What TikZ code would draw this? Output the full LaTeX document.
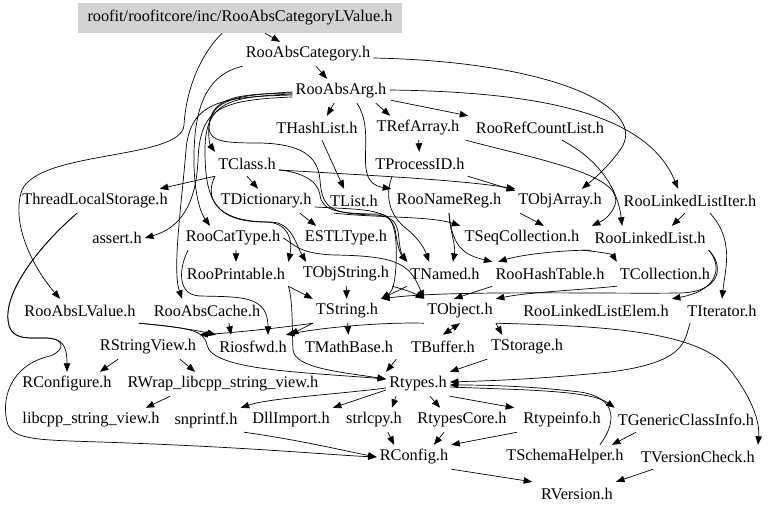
\documentclass[tikz,border=0pt]{standalone}
\usepackage{fontspec}
\setmainfont{Liberation Serif}
\usetikzlibrary{arrows.meta}
\definecolor{rootgray}{RGB}{211,211,211}
\tikzset{
  hdr/.style={font=\fontsize{16.3bp}{19bp}\selectfont, inner xsep=3bp, inner ysep=0pt, minimum height=24bp},
  rootbox/.style={hdr, fill=rootgray, draw=none, minimum width=324bp, minimum height=30bp},
  edge/.style={draw=black, line width=0.7bp, -{Triangle[length=8.5bp,width=6.5bp]}},
  biedge/.style={draw=black, line width=0.7bp, {Triangle[length=8.5bp,width=6.5bp]}-{Triangle[length=8.5bp,width=6.5bp]}}
}
\begin{document}
\begin{tikzpicture}[x=1bp,y=-1bp]
\useasboundingbox (0,0) rectangle (768,514);
\node[rootbox] (root) at (240,18) {roofit/roofitcore/inc/RooAbsCategoryLValue.h};
\node[hdr] (RooAbsCategory) at (308,54) {RooAbsCategory.h};
\node[hdr] (RooAbsArg) at (341,91) {RooAbsArg.h};
\node[hdr] (THashList) at (317,128) {THashList.h};
\node[hdr] (TRefArray) at (418,128) {TRefArray.h};
\node[hdr] (RooRefCountList) at (540,128) {RooRefCountList.h};
\node[hdr] (TClass) at (247,164) {TClass.h};
\node[hdr] (TProcessID) at (420,164) {TProcessID.h};
\node[hdr] (ThreadLocalStorage) at (95,201) {ThreadLocalStorage.h};
\node[hdr] (TDictionary) at (266,201) {TDictionary.h};
\node[hdr] (TList) at (354,201) {TList.h};
\node[hdr] (RooNameReg) at (449,201) {RooNameReg.h};
\node[hdr] (TObjArray) at (560,201) {TObjArray.h};
\node[hdr] (RooLinkedListIter) at (690,201) {RooLinkedListIter.h};
\node[hdr] (assert) at (117,238) {assert.h};
\node[hdr] (RooCatType) at (233,238) {RooCatType.h};
\node[hdr] (ESTLType) at (346,238) {ESTLType.h};
\node[hdr] (TSeqCollection) at (522,238) {TSeqCollection.h};
\node[hdr] (RooLinkedList) at (650,238) {RooLinkedList.h};
\node[hdr] (RooPrintable) at (236,274) {RooPrintable.h};
\node[hdr] (TObjString) at (346,274) {TObjString.h};
\node[hdr] (TNamed) at (445,274) {TNamed.h};
\node[hdr] (RooHashTable) at (550,274) {RooHashTable.h};
\node[hdr] (TCollection) at (665,274) {TCollection.h};
\node[hdr] (RooAbsLValue) at (80,311) {RooAbsLValue.h};
\node[hdr] (RooAbsCache) at (207,311) {RooAbsCache.h};
\node[hdr] (TString) at (347,311) {TString.h};
\node[hdr] (TObject) at (460,311) {TObject.h};
\node[hdr] (RooLinkedListElem) at (596,311) {RooLinkedListElem.h};
\node[hdr] (TIterator) at (722,311) {TIterator.h};
\node[hdr] (RStringView) at (148,347) {RStringView.h};
\node[hdr] (Riosfwd) at (253,347) {Riosfwd.h};
\node[hdr] (TMathBase) at (349,347) {TMathBase.h};
\node[hdr] (TBuffer) at (443,347) {TBuffer.h};
\node[hdr] (TStorage) at (527,347) {TStorage.h};
\node[hdr] (RConfigure) at (67,384) {RConfigure.h};
\node[hdr] (RWrap) at (223,384) {RWrap\_libcpp\_string\_view.h};
\node[hdr] (Rtypes) at (418,384) {Rtypes.h};
\node[hdr] (libcpp) at (91,420) {libcpp\_string\_view.h};
\node[hdr] (snprintf) at (206,420) {snprintf.h};
\node[hdr] (DllImport) at (291,420) {DllImport.h};
\node[hdr] (strlcpy) at (374,420) {strlcpy.h};
\node[hdr] (RtypesCore) at (462,420) {RtypesCore.h};
\node[hdr] (Rtypeinfo) at (562,420) {Rtypeinfo.h};
\node[hdr] (TGenericClassInfo) at (686,420) {TGenericClassInfo.h};
\node[hdr] (RConfig) at (414,457) {RConfig.h};
\node[hdr] (TSchemaHelper) at (565,457) {TSchemaHelper.h};
\node[hdr] (TVersionCheck) at (698,457) {TVersionCheck.h};
\node[hdr] (RVersion) at (577,494) {RVersion.h};

% top
\draw[edge] ([xshift=25]root.south) -- ([xshift=-28]RooAbsCategory.north);
\draw[edge] ([xshift=-18]root.south) .. controls (200,55) and (186,90) .. (184,125) .. controls (182,160) and (40,150) .. (22,190) .. controls (10,225) and (35,270) .. ([xshift=-20]RooAbsLValue.north);
\draw[edge] ([xshift=8]RooAbsCategory.south) -- ([xshift=-14]RooAbsArg.north);
\draw[edge] ([yshift=-4]RooAbsCategory.east) .. controls (560,62) and (650,110) .. (620,150) .. controls (608,167) and (595,178) .. ([xshift=22]TObjArray.north);
\draw[edge] (RooAbsCategory.south west) .. controls (205,75) and (193,110) .. (194,165) .. controls (195,200) and (202,215) .. ([xshift=-23]RooCatType.north);
% RooAbsArg
\draw[edge] ([yshift=-2]RooAbsArg.west) .. controls (240,94) and (212,96) .. (209,125) .. controls (208,138) and (210,145) .. (TClass.north west);
\draw[edge] ([yshift=-4]RooAbsArg.west) .. controls (225,97) and (190,100) .. (186,150) .. controls (182,200) and (172,270) .. ([xshift=-25]RooAbsCache.north);
\draw[edge] ([yshift=-6]RooAbsArg.west) .. controls (220,100) and (200,108) .. (198,160) .. controls (196,205) and (180,228) .. (assert.east);
\draw[edge] ([yshift=-3]RooAbsArg.west) .. controls (232,97) and (205,100) .. (205,150) .. controls (205,200) and (215,222) .. (265,222) .. controls (288,222) and (293,240) .. (RooPrintable.north east);
\draw[edge] ([yshift=-1]RooAbsArg.west) .. controls (240,95) and (210,98) .. (209,128) .. controls (210,142) and (225,143) .. (260,143) .. controls (300,144) and (318,155) .. (320,180) .. controls (322,208) and (330,214) .. (375,215) .. controls (395,216) and (398,225) .. (399,240) .. controls (400,250) and (402,255) .. (TNamed.north west);
\draw[edge] ([xshift=-7]RooAbsArg.south) -- ([xshift=10]THashList.north);
\draw[edge] ([xshift=35]RooAbsArg.south) -- ([xshift=-28]TRefArray.north);
\draw[edge] ([xshift=50,yshift=3]RooAbsArg.south) -- ([xshift=-72]RooRefCountList.north);
\draw[edge] ([yshift=1]RooAbsArg.east) .. controls (560,92) and (650,120) .. ([xshift=-12]RooLinkedListIter.north);
\draw[edge] ([xshift=16]RooAbsArg.south) .. controls (378,135) and (350,182) .. ([xshift=-58]RooNameReg.north);
% middle
\draw[edge] (TRefArray) -- (TProcessID);
\draw[edge] ([xshift=5]THashList.south) -- ([xshift=-10]TList.north);
\draw[edge] ([xshift=22]RooRefCountList.south) .. controls (600,160) and (618,190) .. ([xshift=-28]RooLinkedList.north);
\draw[edge] ([xshift=48]TRefArray.south) .. controls (540,160) and (625,175) .. (615,205) .. controls (610,218) and (600,222) .. ([xshift=70]TSeqCollection.north);
\draw[edge] (TClass.south west) -- ([xshift=65]ThreadLocalStorage.north);
\draw[edge] (TClass.south) -- ([xshift=-8]TDictionary.north);
\draw[edge] ([yshift=-6]TClass.east) .. controls (380,176) and (460,180) .. (TObjArray.north west);
\draw[edge] (TProcessID.south east) -- ([yshift=-2]TObjArray.north west);
\draw[edge] ([xshift=-28]TProcessID.south) .. controls (385,195) and (388,215) .. (408,230) .. controls (420,240) and (425,250) .. ([xshift=-16]TNamed.north);
\draw[edge] ([yshift=-6]TDictionary.east) .. controls (370,210) and (393,208) .. (396,235) .. controls (398,250) and (402,256) .. (TNamed.north west);
\draw[edge] ([xshift=34]TDictionary.south) -- ([xshift=-30]ESTLType.north);
\draw[edge] ([xshift=-20]TList.south) .. controls (380,218) and (430,216) .. ([xshift=-62]TSeqCollection.north);
\draw[edge] ([xshift=-40]TObjArray.south) -- ([xshift=22]TSeqCollection.north);
\draw[edge] (TSeqCollection.south east) .. controls (600,252) and (612,254) .. (TCollection.north west);
\draw[edge] ([xshift=-5]RooLinkedListIter.south) -- ([xshift=22]RooLinkedList.north);
\draw[edge] ([xshift=20]RooLinkedListIter.south) .. controls (735,240) and (725,270) .. (TIterator.north);
\draw[edge] (RooNameReg.south) .. controls (450,232) and (456,245) .. ([xshift=8]TNamed.north);
\draw[edge] (RooNameReg.south) .. controls (452,248) and (465,255) .. (RooHashTable.north west);
\draw[edge] (RooLinkedList.south west) .. controls (560,250) and (520,255) .. ([xshift=-52]RooHashTable.north);
\draw[edge] (RooLinkedList.south east) .. controls (722,265) and (720,290) .. (RooLinkedListElem.north east);
\draw[edge] (RooLinkedList.south east) .. controls (724,265) and (722,292) .. (680,293) .. controls (600,294) and (450,290) .. (TString.north east);
\draw[edge] (TCollection.south west) .. controls (580,290) and (530,292) .. (TObject.north east);
\draw[edge] (RooHashTable.south west) -- ([xshift=-6]TObject.north);
\draw[edge] (TNamed.south west) -- (TString.north east);
\draw[edge] (TObjString) -- (TString);
\draw[edge] (TObjString.south east) .. controls (405,290) and (412,292) .. (TObject.north west);
\draw[edge] ([yshift=-6]TClass.east) .. controls (300,172) and (318,180) .. (320,195) .. controls (322,210) and (335,214) .. (380,214) .. controls (396,215) and (397,240) .. (396,265) .. controls (395,285) and (392,292) .. (TString.north east);
\draw[edge] ([xshift=3]RooCatType.south) -- (RooPrintable.north);
\draw[edge] (RooCatType.east) .. controls (295,245) and (300,254) .. (335,255) .. controls (400,256) and (410,265) .. (TObject.north west);
\draw[edge] (TClass.south west) .. controls (205,195) and (212,222) .. (270,222) .. controls (292,222) and (296,245) .. ([xshift=-40]TObjString.north);
\draw[edge] ([xshift=-45]RooCatType.south) .. controls (180,265) and (175,295) .. (200,296) .. controls (240,297) and (268,295) .. ([xshift=15]Riosfwd.north);
\draw[edge] ([xshift=22]RooAbsCache.south) -- ([xshift=-22]Riosfwd.north);
\draw[edge] (RooPrintable.south east) -- (TString.north west);
\draw[edge] (RooPrintable.south east) .. controls (293,300) and (292,330) .. (293,350) .. controls (295,368) and (340,372) .. ([yshift=5]Rtypes.west);
\draw[edge] (RooAbsLValue.south east) .. controls (170,326) and (195,330) .. (Riosfwd.north west);
\draw[edge] (RooAbsLValue.south east) .. controls (190,328) and (204,330) .. (207,345) .. controls (212,370) and (300,372) .. ([yshift=5]Rtypes.west);
% lower
\draw[edge] (TString.south west) .. controls (280,328) and (230,333) .. (RStringView.north east);
\draw[edge] (TString.south west) -- (Riosfwd.north east);
\draw[edge] (TString) -- (TMathBase);
\draw[edge] (TObject.south west) .. controls (380,322) and (320,328) .. ([xshift=-4]Riosfwd.north east);
\draw[biedge] (TObject.south) -- (TBuffer.north);
\draw[edge] (TObject.south east) -- ([xshift=-25]TStorage.north);
\draw[edge] (TObject.south east) .. controls (600,326) and (700,330) .. (730,370) .. controls (750,395) and (760,420) .. (TVersionCheck.north east);
\draw[edge] ([xshift=-32]TIterator.south) .. controls (684,340) and (688,362) .. (610,372) .. controls (530,380) and (480,381) .. ([yshift=2]Rtypes.east);
\draw[edge] (TMathBase.south east) -- (Rtypes.north west);
\draw[edge] ([xshift=-40]TStorage.south) -- (Rtypes.north east);
\draw[edge] ([xshift=-30]RStringView.south) -- ([xshift=33]RConfigure.north);
\draw[edge] ([xshift=32]RStringView.south) -- ([xshift=-28]RWrap.north);
\draw[edge] ([xshift=-53]RWrap.south) -- ([xshift=55]libcpp.north);
\draw[edge] ([xshift=-18]ThreadLocalStorage.south) .. controls (40,245) and (5,290) .. (8,320) .. controls (10,340) and (25,338) .. (45,338) .. controls (62,338) and (67,345) .. (RConfigure.north);
\draw[edge] ([xshift=-18]ThreadLocalStorage.south) .. controls (40,245) and (5,290) .. (8,320) .. controls (10,340) and (25,338) .. (45,338) .. controls (65,338) and (66,350) .. (50,356) .. controls (10,365) and (0,400) .. (8,425) .. controls (15,440) and (40,440) .. (100,442) .. controls (250,447) and (330,455) .. (RConfig.west);
\draw[edge] ([yshift=-4]Rtypes.west) .. controls (330,395) and (270,398) .. (snprintf.north east);
\draw[edge] ([yshift=-6]Rtypes.west) -- (DllImport.north east);
\draw[edge] ([xshift=-22]Rtypes.south) -- ([xshift=18]strlcpy.north);
\draw[edge] ([xshift=12]Rtypes.south) -- ([xshift=-22]RtypesCore.north);
\draw[edge] (Rtypes.south east) -- ([xshift=-48]Rtypeinfo.north);
\draw[edge] ([yshift=-3]Rtypes.east) .. controls (520,390) and (590,390) .. (TGenericClassInfo.north west);
\draw[edge] ([xshift=35]TSchemaHelper.north) .. controls (615,425) and (620,398) .. (580,392) .. controls (530,386) and (485,385) .. ([yshift=-1]Rtypes.east);
\draw[edge] ([xshift=-50]TGenericClassInfo.south) -- ([xshift=-15]TSchemaHelper.north east);
\draw[edge] ([xshift=14]strlcpy.south) -- ([xshift=-20]RConfig.north);
\draw[edge] ([xshift=-18]RtypesCore.south) -- ([xshift=20]RConfig.north);
\draw[edge] ([xshift=-45]Rtypeinfo.south) -- (RConfig.north east);
\draw[edge] ([xshift=38]snprintf.south) .. controls (300,440) and (350,452) .. (RConfig.west);
\draw[edge] (RConfig.south east) -- ([xshift=-45]RVersion.north);
\draw[edge] ([xshift=-45]TVersionCheck.south) -- (RVersion.north east);
\end{tikzpicture}
\end{document}
